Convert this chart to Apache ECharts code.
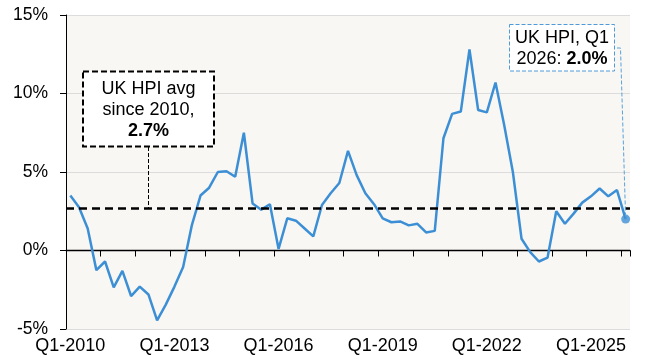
<!DOCTYPE html>
<html>
<head>
<meta charset="utf-8">
<script src="https://cdn.jsdelivr.net/npm/echarts@6/dist/echarts.min.js"></script>
<style>
  html, body { margin: 0; padding: 0; background: #fff; }
  #chart { width: 647px; height: 362px; }
</style>
</head>
<body>
<div id="chart"></div>
<script>
// quarterly labels, Q1-2010 .. Q1-2026
const years = [2010, 2011, 2012, 2013, 2014, 2015, 2016, 2017, 2018, 2019, 2020, 2021, 2022, 2023, 2024, 2025, 2026];
const quarters = [];
years.forEach((y) => {
  for (let q = 1; q <= 4; q++) {
    if (y === 2026 && q > 1) break;
    quarters.push("Q" + q + "-" + y);
  }
});

// UK HPI annual growth, %
const hpiGrowth = [
  3.5, 2.75, 1.4, -1.25, -0.7, -2.35, -1.3, -2.9, -2.3, -2.8,
  -4.45, -3.45, -2.3, -1.05, 1.6, 3.5, 4.0, 5.0, 5.05, 4.7,
  7.5, 3.0, 2.6, 2.95, 0.1, 2.05, 1.9, 1.4, 0.9, 2.9,
  3.65, 4.3, 6.35, 4.8, 3.65, 2.95, 2.05, 1.8, 1.85, 1.6,
  1.7, 1.15, 1.25, 7.15, 8.7, 8.85, 12.8, 8.95, 8.8, 10.7,
  8.0, 5.0, 0.75, -0.1, -0.7, -0.45, 2.5, 1.7, 2.35, 3.05,
  3.45, 3.95, 3.45, 3.85, 2.0,
];

const avgSince2010 = 2.7;
const yTicks = [-5, 0, 5, 10, 15];

const FONT = '"Liberation Sans", Arial, sans-serif';
const BLUE = "#3d8fd5";
const lastIdx = hpiGrowth.length - 1;

const chart = echarts.init(document.getElementById("chart"));

chart.setOption({
  animation: false,
  textStyle: { fontFamily: FONT },
  grid: {
    left: 66,
    right: 17,
    top: 15,
    bottom: 33,
    show: true,
    backgroundColor: "#f8f7f4",
    borderWidth: 0,
  },
  xAxis: [
    {
      // labels along the bottom
      type: "category",
      data: quarters,
      position: "bottom",
      axisLine: { show: false, onZero: false },
      axisTick: { show: false },
      axisLabel: { interval: 11, color: "#000", fontSize: 18, margin: 8, fontFamily: FONT },
    },
    {
      // axis line + ticks sitting on 0%
      type: "category",
      data: quarters,
      position: "bottom",
      axisLine: { show: true, onZero: true, lineStyle: { color: "#000", width: 1.3 } },
      axisTick: { show: true, interval: 3, length: 6, lineStyle: { color: "#000" } },
      axisLabel: { show: false },
    },
  ],
  yAxis: {
    type: "value",
    min: yTicks[0],
    max: yTicks[yTicks.length - 1],
    interval: 5,
    axisLine: { show: true, lineStyle: { color: "#000" } },
    axisTick: { show: true, length: 6, lineStyle: { color: "#000" } },
    axisLabel: { formatter: "{value}%", color: "#000", fontSize: 17.5, margin: 18, fontFamily: FONT },
    splitLine: { show: true, lineStyle: { color: "#dcdcdc" } },
  },
  series: [
    {
      name: "UK HPI",
      type: "line",
      xAxisIndex: 0,
      data: hpiGrowth,
      symbol: "none",
      lineStyle: { color: BLUE, width: 2.5 },
      z: 3,
      markLine: {
        silent: true,
        symbol: "none",
        label: { show: false },
        lineStyle: { type: [8, 5], color: "#000", width: 2.5 },
        data: [{ yAxis: avgSince2010 }],
      },
    },
    {
      name: "latest",
      type: "scatter",
      xAxisIndex: 0,
      data: [[lastIdx, hpiGrowth[lastIdx]]],
      symbolSize: 9,
      itemStyle: { color: BLUE },
      z: 4,
    },
  ],
});

// annotation boxes and their leader lines
const avgY = chart.convertToPixel({ yAxisIndex: 0 }, avgSince2010);
const lastPt = chart.convertToPixel({ gridIndex: 0 }, [lastIdx, hpiGrowth[lastIdx]]);

chart.setOption({
  graphic: [
    {
      type: "line",
      shape: { x1: 148.5, y1: 147, x2: 148.5, y2: avgY },
      style: { stroke: "#000", lineWidth: 1, lineDash: [4, 2] },
      z: 10,
    },
    {
      type: "rect",
      shape: { x: 83, y: 71.5, width: 131, height: 75 },
      style: { fill: "#fff", stroke: "#000", lineWidth: 2, lineDash: [6, 3] },
      z: 10,
    },
    {
      type: "text",
      x: 148.5,
      y: 110,
      style: {
        text: "UK HPI avg\nsince 2010,\n{b|" + avgSince2010.toFixed(1) + "%}",
        rich: { b: { fontWeight: "bold", fontSize: 18, fontFamily: FONT, lineHeight: 21 } },
        fontSize: 18,
        fontFamily: FONT,
        lineHeight: 21,
        fill: "#000",
        align: "center",
        verticalAlign: "middle",
      },
      z: 11,
    },
    {
      type: "polyline",
      shape: { points: [[617, 48], [620.5, 48], [lastPt[0], lastPt[1]]] },
      style: { stroke: "#5aa2dc", lineWidth: 1, lineDash: [4, 2], fill: null },
      z: 10,
    },
    {
      type: "rect",
      shape: { x: 509.5, y: 24.5, width: 105, height: 46.5 },
      style: { fill: "#fff", stroke: "#4f9ad8", lineWidth: 1, lineDash: [4, 2] },
      z: 10,
    },
    {
      type: "text",
      x: 562,
      y: 48.5,
      style: {
        text: "UK HPI, Q1\n2026: {b|" + hpiGrowth[lastIdx].toFixed(1) + "%}",
        rich: { b: { fontWeight: "bold", fontSize: 18, fontFamily: FONT, lineHeight: 21 } },
        fontSize: 18,
        fontFamily: FONT,
        lineHeight: 21,
        fill: "#000",
        align: "center",
        verticalAlign: "middle",
      },
      z: 11,
    },
  ],
});

window.addEventListener("resize", () => chart.resize());
</script>
</body>
</html>
